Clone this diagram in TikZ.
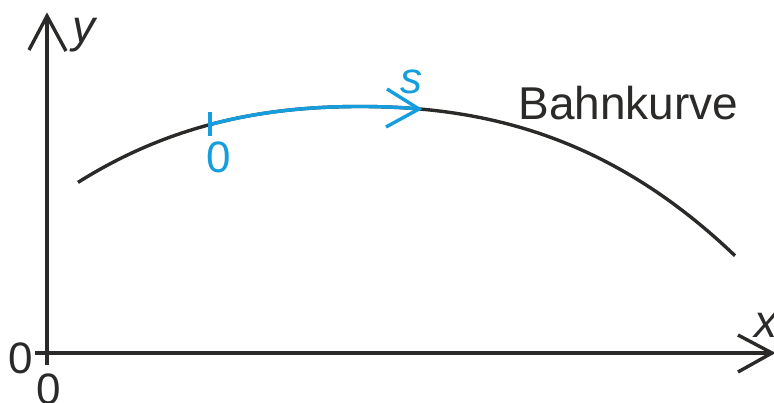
\documentclass[tikz,border=0pt]{standalone}
\usepackage{fontspec}
\setmainfont{Liberation Sans}
\definecolor{ink}{RGB}{43,42,41}
\definecolor{sblue}{RGB}{20,158,222}
\begin{document}
\begin{tikzpicture}[x=1pt,y=-1pt,
  declare function={uu(\t)=(\t-360)/100; traj(\t)=106.5+6.3*uu(\t)*uu(\t)+1.15*abs(uu(\t))*uu(\t)*uu(\t);},
  axis/.style={draw=ink,line width=3.4pt},
  curveline/.style={line width=3.4pt,line cap=butt},
  lbl/.style={inner sep=0pt,text=ink,font=\fontsize{44}{44}\selectfont},
  blbl/.style={inner sep=0pt,text=sblue,font=\fontsize{44}{44}\selectfont}]
\useasboundingbox (0,0) rectangle (774,403);
% axes
\coordinate (ybot) at (47,365);
\coordinate (ytip) at (47,16);
\coordinate (xleft) at (35,353);
\coordinate (xtip) at (772,353);
\draw[axis] (ybot) -- (ytip);
\draw[axis] (xleft) -- (xtip);
\draw[axis,line join=miter] (29,50) -- (ytip) -- (66,51);
\draw[axis,line join=miter] (738,335) -- (xtip) -- (738,372);
% labels
\node[lbl,font=\fontsize{46}{46}\selectfont\itshape] (ylab) at (84,35) {y};
\node[lbl,font=\fontsize{46}{46}\selectfont\itshape] (xlab) at (766,325) {x};
\node[lbl] (o1) at (21,358) {0};
\node[lbl] (o2) at (49,389) {0};
% trajectory
\draw[curveline,ink] plot[domain=78:735,samples=120] ({\x},{traj(\x)});
\draw[curveline,sblue] plot[domain=209:419,samples=60] ({\x},{traj(\x)});
\coordinate (s0) at (210,112);
\coordinate (s0b) at (210,136);
\coordinate (stip) at (419,109);
\draw[sblue,line width=3.4pt] (s0) -- (s0b);
\draw[sblue,line width=3.4pt,line join=miter] (387,89) -- (stip) -- (386,127);
\node[blbl] (zero) at (219,157.5) {0};
\node[blbl,font=\fontsize{44}{44}\selectfont\itshape] (slab) at (411,82) {s};
\node[lbl,font=\fontsize{46}{46}\selectfont,anchor=base] (bahn) at (628.5,120) {Bahnkurve};
\end{tikzpicture}
\end{document}
